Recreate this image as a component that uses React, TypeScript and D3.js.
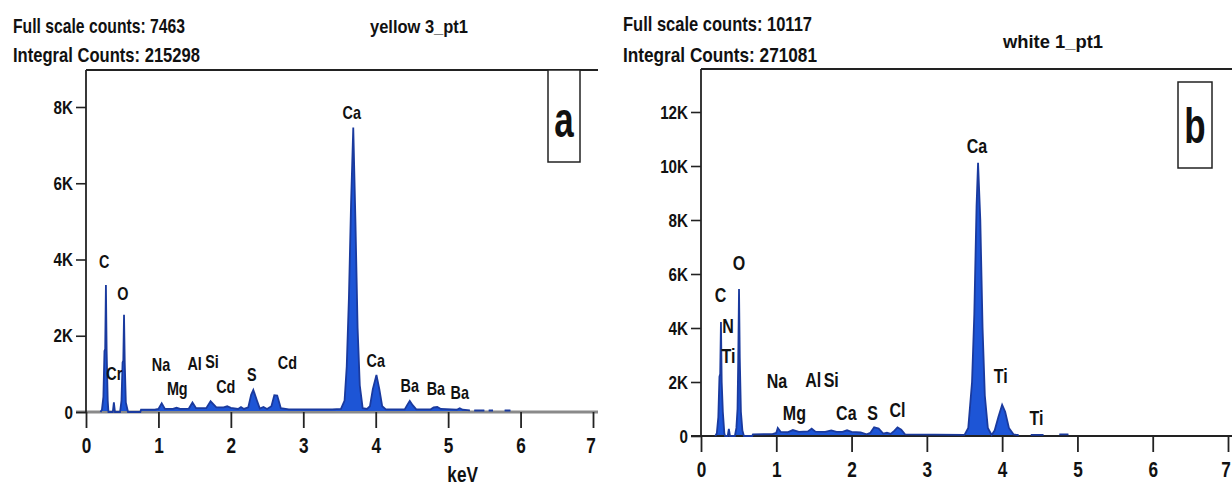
import React, { useRef, useEffect } from 'react';
import * as d3 from 'd3';

type Pt = [number, number | null];
type PeakLabel = { name: string; kev: number; counts: number };

// ---- panel a : yellow 3_pt1 ----
const spectrumA: Pt[] = [
  [0.2, 0], [0.22, 60], [0.24, 400], [0.255, 1600], [0.265, 1650], [0.275, 3330], [0.285, 1600], [0.3, 300], [0.31, 0],
  [0.37, 0], [0.385, 250], [0.4, 0],
  [0.47, 0], [0.49, 300], [0.505, 1300], [0.515, 1350], [0.525, 2550], [0.535, 1300], [0.55, 250], [0.58, 0],
  [0.75, 0], [0.76, 60], [0.95, 60], [1.0, 80], [1.045, 230], [1.09, 80], [1.2, 80], [1.25, 110], [1.3, 80],
  [1.42, 90], [1.47, 250], [1.52, 100], [1.66, 100], [1.72, 280], [1.8, 120], [1.9, 120], [1.95, 150], [2.0, 110],
  [2.1, 80], [2.14, 130], [2.18, 80], [2.24, 120], [2.28, 450], [2.31, 580], [2.36, 300], [2.4, 90], [2.45, 130],
  [2.5, 80], [2.56, 150], [2.6, 440], [2.64, 430], [2.69, 100], [2.8, 70], [3.4, 70], [3.52, 80], [3.57, 300],
  [3.6, 1200], [3.63, 3000], [3.66, 5500], [3.69, 7463], [3.72, 5000], [3.75, 2200], [3.78, 700], [3.82, 100],
  [3.88, 80], [3.92, 150], [3.96, 600], [4.01, 970], [4.05, 600], [4.09, 150], [4.14, 70], [4.4, 70], [4.44, 200],
  [4.47, 290], [4.51, 180], [4.56, 70], [4.76, 70], [4.8, 120], [4.85, 130], [4.9, 80], [5.12, 60], [5.16, 100],
  [5.2, 60], [5.3, 45],
  [5.33, null], [5.36, 40], [5.5, 40], [5.52, null], [5.56, 40], [5.62, 40], [5.64, null], [5.78, 40], [5.86, 40],
];

const labelsA: PeakLabel[] = [
  { name: 'C', kev: 0.25, counts: 3780 },
  { name: 'Cr', kev: 0.39, counts: 840 },
  { name: 'O', kev: 0.51, counts: 2940 },
  { name: 'Na', kev: 1.035, counts: 1080 },
  { name: 'Mg', kev: 1.26, counts: 450 },
  { name: 'Al', kev: 1.5, counts: 1100 },
  { name: 'Si', kev: 1.74, counts: 1150 },
  { name: 'Cd', kev: 1.93, counts: 500 },
  { name: 'S', kev: 2.29, counts: 810 },
  { name: 'Cd', kev: 2.78, counts: 1130 },
  { name: 'Ca', kev: 3.67, counts: 7690 },
  { name: 'Ca', kev: 4.0, counts: 1180 },
  { name: 'Ba', kev: 4.47, counts: 525 },
  { name: 'Ba', kev: 4.83, counts: 450 },
  { name: 'Ba', kev: 5.16, counts: 340 },
];
const yTicksA = [0, 2000, 4000, 6000, 8000];

// ---- panel b : white 1_pt1 ----
const spectrumB: Pt[] = [
  [0.19, 0], [0.21, 100], [0.23, 700], [0.245, 2200], [0.255, 2300], [0.265, 4220], [0.275, 2000], [0.29, 900], [0.31, 100], [0.32, 0],
  [0.355, 0], [0.37, 260], [0.385, 0],
  [0.45, 0], [0.47, 300], [0.485, 1000], [0.495, 2900], [0.505, 5440], [0.515, 2900], [0.53, 900], [0.55, 200], [0.57, 0],
  [0.68, 0], [0.69, 60], [0.95, 70], [1.0, 120], [1.02, 300], [1.06, 150], [1.15, 140], [1.22, 220], [1.3, 150],
  [1.42, 170], [1.47, 270], [1.52, 160], [1.65, 150], [1.73, 210], [1.8, 150], [1.88, 150], [1.94, 210], [2.0, 150],
  [2.12, 130], [2.2, 60], [2.25, 120], [2.3, 320], [2.36, 280], [2.42, 90], [2.47, 120], [2.52, 80], [2.57, 200],
  [2.61, 320], [2.66, 230], [2.71, 60], [3.5, 40], [3.55, 300], [3.6, 2000], [3.63, 4500], [3.66, 8500],
  [3.68, 10117], [3.71, 8000], [3.74, 4000], [3.77, 1500], [3.81, 300], [3.86, 40], [3.9, 200], [3.95, 700],
  [4.0, 1155], [4.04, 900], [4.09, 300], [4.15, 60], [4.22, 30],
  [4.25, null], [4.38, 40], [4.55, 40], [4.57, null], [4.76, 60], [4.88, 60],
];

const labelsB: PeakLabel[] = [
  { name: 'C', kev: 0.26, counts: 4960 },
  { name: 'N', kev: 0.36, counts: 3810 },
  { name: 'Ti', kev: 0.365, counts: 2700 },
  { name: 'O', kev: 0.505, counts: 6150 },
  { name: 'Na', kev: 1.01, counts: 1780 },
  { name: 'Mg', kev: 1.24, counts: 590 },
  { name: 'Al', kev: 1.49, counts: 1800 },
  { name: 'Si', kev: 1.73, counts: 1800 },
  { name: 'Ca', kev: 1.93, counts: 590 },
  { name: 'S', kev: 2.28, counts: 590 },
  { name: 'Cl', kev: 2.61, counts: 700 },
  { name: 'Ca', kev: 3.665, counts: 10480 },
  { name: 'Ti', kev: 3.98, counts: 1960 },
  { name: 'Ti', kev: 4.455, counts: 400 },
];
const yTicksB = [0, 2000, 4000, 6000, 8000, 10000, 12000];

const xTicks = [0, 1, 2, 3, 4, 5, 6, 7];

const FONT = "'Liberation Sans Narrow', 'Arial Narrow', 'Liberation Sans', Arial, sans-serif";
const NARROW = 0.8; // horizontal squeeze to mimic a narrow face
const FILL = '#1d55d6';
const EDGE = '#1a3a9e';

const fmtK = (d: d3.NumberValue) => (+d === 0 ? '0' : `${+d / 1000}K`);

interface PanelConfig {
  data: Pt[];
  labels: PeakLabel[];
  yTicks: number[];
  yMax: number;
  xRange: [number, number];
  yRange: [number, number];
  top: number;
  rightEdge: number;
  baseColor: string;
  baseWidth: number;
  labelSize: number;
  fullScale: string;
  integral: string;
  headerX: number;
  headerY: [number, number];
  headerLen: [number, number];
  title: string;
  titleX: number;
  titleY: number;
  titleLen: number;
  letter: string;
  box: { x: number; y: number; w: number; h: number };
  letterY: number;
  showUnit: boolean;
}

function drawPanel(svg: d3.Selection<SVGSVGElement, unknown, null, undefined>, p: PanelConfig) {
  const x = d3.scaleLinear().domain([0, 7]).range(p.xRange);
  const y = d3.scaleLinear().domain([0, p.yMax]).range(p.yRange);
  const g = svg.append('g');

  // header text
  const header = (tx: number, ty: number, len: number, size: number, s: string) =>
    g.append('text').attr('x', tx).attr('y', ty)
      .attr('textLength', len).attr('lengthAdjust', 'spacingAndGlyphs')
      .attr('font-size', size).attr('font-weight', 'bold').attr('font-family', FONT).attr('fill', '#111')
      .text(s);
  header(p.headerX, p.headerY[0], p.headerLen[0], 21, p.fullScale);
  header(p.headerX, p.headerY[1], p.headerLen[1], 21, p.integral);
  header(p.titleX, p.titleY, p.titleLen, 19, p.title);

  // top frame line
  g.append('line')
    .attr('x1', x(0)).attr('x2', p.rightEdge)
    .attr('y1', p.top).attr('y2', p.top)
    .attr('stroke', '#222').attr('stroke-width', 2);

  // baseline
  g.append('line')
    .attr('x1', x(0) - 10).attr('x2', p.rightEdge)
    .attr('y1', y(0)).attr('y2', y(0))
    .attr('stroke', p.baseColor).attr('stroke-width', p.baseWidth);

  // spectrum
  const area = d3.area<Pt>()
    .defined(d => d[1] !== null)
    .x(d => x(d[0]))
    .y0(y(0) - 1)
    .y1(d => y(d[1] as number));
  const line = d3.line<Pt>()
    .defined(d => d[1] !== null)
    .x(d => x(d[0]))
    .y(d => y(d[1] as number));
  g.append('path').datum(p.data).attr('d', area).attr('fill', FILL);
  g.append('path').datum(p.data).attr('d', line)
    .attr('fill', 'none').attr('stroke', EDGE).attr('stroke-width', 1.8);

  // y axis
  const yAxis = g.append('g')
    .attr('transform', `translate(${x(0)},0)`)
    .call(d3.axisLeft(y).tickValues(p.yTicks).tickFormat(fmtK).tickSize(10).tickPadding(3));
  yAxis.select('.domain').remove();
  yAxis.selectAll('line').attr('stroke', '#222').attr('stroke-width', 1.6);
  yAxis.selectAll('text')
    .attr('x', -13 / NARROW)
    .attr('transform', `scale(${NARROW},1)`)
    .attr('font-size', 19).attr('font-weight', 'bold').attr('font-family', FONT).attr('fill', '#111');

  g.append('line')
    .attr('x1', x(0)).attr('x2', x(0))
    .attr('y1', p.top).attr('y2', y(0))
    .attr('stroke', '#222').attr('stroke-width', 1.8);

  // x axis
  const xAxis = g.append('g')
    .attr('transform', `translate(0,${y(0)})`)
    .call(d3.axisBottom(x).tickValues(xTicks).tickFormat(d3.format('d')).tickSize(16).tickPadding(10));
  xAxis.select('.domain').remove();
  xAxis.selectAll('line').attr('stroke', '#222').attr('stroke-width', 1.8);
  xAxis.selectAll<SVGTextElement, number>('text')
    .attr('x', d => (d === 7 ? -3 : 0))
    .attr('transform', `scale(${NARROW},1)`)
    .attr('font-size', 21.5).attr('font-weight', 'bold').attr('font-family', FONT).attr('fill', '#111');

  if (p.showUnit) {
    g.append('text')
      .attr('transform', `translate(${x(5.2)},${y(0) + 70}) scale(${NARROW},1)`)
      .attr('text-anchor', 'middle')
      .attr('font-size', 21.5).attr('font-weight', 'bold').attr('font-family', FONT).attr('fill', '#111')
      .text('keV');
  }

  // peak labels
  g.append('g')
    .selectAll('text')
    .data(p.labels)
    .join('text')
    .attr('transform', d => `translate(${x(d.kev)},${y(d.counts)}) scale(${NARROW},1)`)
    .attr('text-anchor', 'middle')
    .attr('font-size', p.labelSize).attr('font-weight', 'bold').attr('font-family', FONT).attr('fill', '#111')
    .text(d => d.name);

  // panel letter box
  g.append('rect')
    .attr('x', p.box.x).attr('y', p.box.y).attr('width', p.box.w).attr('height', p.box.h)
    .attr('fill', '#fff').attr('stroke', '#222').attr('stroke-width', 1.5);
  g.append('text')
    .attr('transform', `translate(${p.box.x + p.box.w / 2},${p.letterY}) scale(0.7,1)`)
    .attr('text-anchor', 'middle')
    .attr('font-size', 50).attr('font-weight', 'bold').attr('font-family', FONT).attr('fill', '#111')
    .text(p.letter);
}

const App: React.FC = () => {
  const chartRef = useRef<SVGSVGElement | null>(null);

  useEffect(() => {
    if (!chartRef.current) return;
    document.body.style.margin = '0';

    const svg = d3.select(chartRef.current);
    svg.selectAll('*').remove();

    drawPanel(svg, {
      data: spectrumA,
      labels: labelsA,
      yTicks: yTicksA,
      yMax: 8000,
      xRange: [86, 593],
      yRange: [412, 107],
      top: 70,
      rightEdge: 598,
      baseColor: '#8a8a8a',
      baseWidth: 3,
      labelSize: 18,
      fullScale: 'Full scale counts: 7463',
      integral: 'Integral Counts: 215298',
      headerX: 13,
      headerY: [33, 62],
      headerLen: [172, 187],
      title: 'yellow 3_pt1',
      titleX: 370,
      titleY: 33,
      titleLen: 98,
      letter: 'a',
      box: { x: 548, y: 70, w: 32, h: 92 },
      letterY: 137,
      showUnit: true,
    });

    drawPanel(svg, {
      data: spectrumB,
      labels: labelsB,
      yTicks: yTicksB,
      yMax: 12000,
      xRange: [701, 1228],
      yRange: [436, 112],
      top: 69,
      rightEdge: 1232,
      baseColor: '#222',
      baseWidth: 2,
      labelSize: 20,
      fullScale: 'Full scale counts: 10117',
      integral: 'Integral Counts: 271081',
      headerX: 623,
      headerY: [31, 62],
      headerLen: [189, 194],
      title: 'white 1_pt1',
      titleX: 1003,
      titleY: 48,
      titleLen: 100,
      letter: 'b',
      box: { x: 1178, y: 82, w: 34, h: 86 },
      letterY: 143,
      showUnit: false,
    });
  }, []);

  return (
    <div style={{ width: 1232, height: 487, background: '#fff' }}>
      <svg ref={chartRef} width={1232} height={487} style={{ display: 'block' }} />
    </div>
  );
};

export default App;
